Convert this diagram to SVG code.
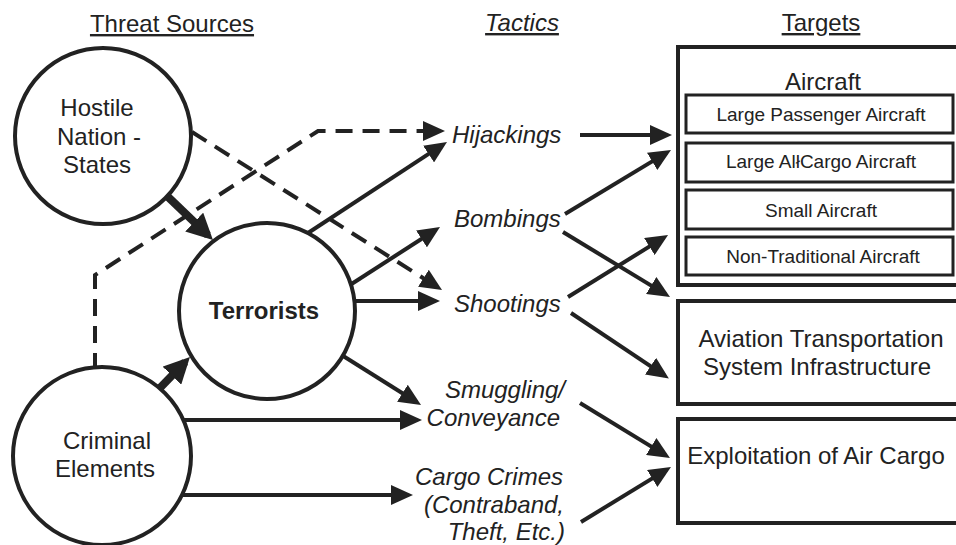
<svg xmlns="http://www.w3.org/2000/svg" width="956" height="545" viewBox="0 0 956 545">
<defs>
<style>
text{font-family:"Liberation Sans",Arial,sans-serif;fill:#222;}
.hdr{font-size:24px;text-decoration:underline;}
.node{font-size:24px;text-anchor:middle;}
.tac{font-size:24px;font-style:italic;}
.sub{font-size:19px;text-anchor:middle;}
.circ{fill:#fff;stroke:#222;stroke-width:4;}
.box{fill:#fff;stroke:#222;stroke-width:4;}
.ibox{fill:#fff;stroke:#222;stroke-width:3;}
.ln{fill:none;stroke:#222;stroke-width:4;marker-end:url(#ah);}
.dash{fill:none;stroke:#222;stroke-width:4;stroke-dasharray:17 10;marker-end:url(#ah);}
.thick{fill:none;stroke:#222;stroke-width:8;marker-end:url(#ahb);}
</style>
<marker id="ah" markerUnits="userSpaceOnUse" markerWidth="22" markerHeight="20" refX="17" refY="10" orient="auto">
<path d="M0,0 L22,10 L0,20 z" fill="#222"/>
</marker>
<marker id="ahb" markerUnits="userSpaceOnUse" markerWidth="26" markerHeight="26" refX="19" refY="13" orient="auto">
<path d="M0,0 L26,13 L0,26 z" fill="#222"/>
</marker>
</defs>
<rect width="956" height="545" fill="#fff"/>

<g id="headers">
<text class="hdr" x="172" y="32" text-anchor="middle">Threat Sources</text>
<text class="hdr" x="522" y="31" text-anchor="middle" font-style="italic">Tactics</text>
<text class="hdr" x="821" y="31" text-anchor="middle">Targets</text>
</g>

<g id="connectors">
<path class="ln" d="M580,135 L667,135"/>
<path class="ln" d="M565,214 L666.7,152.6"/>
<path class="ln" d="M563,232 L665.7,294.4"/>
<path class="ln" d="M568,297 L663.8,237.6"/>
<path class="ln" d="M571,313 L664.7,375.6"/>
<path class="ln" d="M580,403 L665.7,455.4"/>
<path class="ln" d="M581,522 L666.7,469.6"/>
<path class="ln" d="M308,233 L442.8,144.7"/>
<path class="ln" d="M350,285 L435.8,229.7"/>
<path class="ln" d="M352,301 L435,301"/>
<path class="ln" d="M340,354 L416.8,402.3"/>
<path class="ln" d="M183,420 L417,420"/>
<path class="ln" d="M180,495 L408,495"/>
<path class="dash" d="M192,132 L437.8,287.3"/>
<path class="dash" d="M95,370 L95,275 L318,131 L440,131"/>
<path class="thick" d="M165,194 L207.9,235.2"/>
<path class="thick" d="M158,390 L185.1,362"/>
</g>

<g id="hostile">
<circle class="circ" cx="103" cy="136" r="88"/>
<text class="node" x="97" y="116" font-size="23">Hostile</text>
<text class="node" x="99" y="145" font-size="23">Nation -</text>
<text class="node" x="97" y="173" font-size="23">States</text>
</g>

<g id="terrorists">
<circle class="circ" cx="267" cy="311" r="88"/>
<text class="node" x="264" y="319" font-size="23" font-weight="bold">Terrorists</text>
</g>

<g id="criminal">
<circle class="circ" cx="102" cy="456" r="89"/>
<text class="node" x="107" y="449">Criminal</text>
<text class="node" x="105" y="477">Elements</text>
</g>

<g id="hijackings"><text class="tac" x="452" y="143">Hijackings</text></g>
<g id="bombings"><text class="tac" x="454" y="227">Bombings</text></g>
<g id="shootings"><text class="tac" x="454" y="312">Shootings</text></g>
<g id="smuggling">
<text class="tac" x="565" y="398" text-anchor="end">Smuggling/</text>
<text class="tac" x="560" y="426" text-anchor="end">Conveyance</text>
</g>
<g id="cargocrimes">
<text class="tac" x="563" y="485" text-anchor="end">Cargo Crimes</text>
<text class="tac" x="564" y="513" text-anchor="end">(Contraband,</text>
<text class="tac" x="565" y="540" text-anchor="end">Theft, Etc.)</text>
</g>

<g id="aircraft">
<rect class="box" x="678" y="47" width="290" height="238"/>
<text class="node" x="823" y="90">Aircraft</text>
<rect class="ibox" x="686" y="95" width="267" height="38"/>
<text class="sub" x="821" y="121">Large Passenger Aircraft</text>
<rect class="ibox" x="686" y="143" width="267" height="39"/>
<text class="sub" x="821" y="168">Large AlłCargo Aircraft</text>
<rect class="ibox" x="686" y="190" width="267" height="39"/>
<text class="sub" x="821" y="217">Small Aircraft</text>
<rect class="ibox" x="686" y="237" width="267" height="38"/>
<text class="sub" x="823" y="263">Non-Traditional Aircraft</text>
</g>

<g id="aviation">
<rect class="box" x="678" y="301" width="290" height="103"/>
<text class="node" x="821" y="347">Aviation Transportation</text>
<text class="node" x="817" y="375">System Infrastructure</text>
</g>

<g id="exploitation">
<rect class="box" x="678" y="419" width="290" height="104"/>
<text class="node" x="816" y="464">Exploitation of Air Cargo</text>
</g>
</svg>
